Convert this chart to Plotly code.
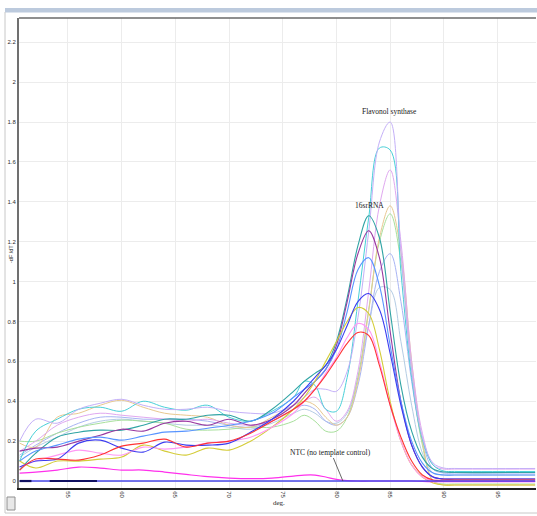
import plotly.graph_objects as go

# ---------------- data ----------------
temps = [50.5, 52, 54, 56, 58, 60, 62, 64, 66, 68, 70, 72, 74, 76, 77, 78, 79, 80,
         81, 82, 83, 84, 85, 86, 87, 88, 89, 90, 91, 98.5]

flavonol_synthase = [0.20, 0.31, 0.29, 0.36, 0.39, 0.41, 0.38, 0.36, 0.36, 0.37, 0.35, 0.34, 0.34, 0.38, 0.42, 0.46, 0.46, 0.45,
                     0.55, 0.82, 1.25, 1.70, 1.80, 1.15, 0.55, 0.22, 0.09, 0.065, 0.063, 0.063]
cyan_sample = [0.10, 0.25, 0.31, 0.36, 0.37, 0.35, 0.40, 0.37, 0.355, 0.38, 0.32, 0.30, 0.35, 0.42, 0.50, 0.48, 0.36, 0.35,
               0.52, 0.90, 1.32, 1.67, 1.66, 1.05, 0.52, 0.21, 0.08, 0.05, 0.048, 0.048]
violet_sample = [0.15, 0.20, 0.28, 0.32, 0.34, 0.33, 0.32, 0.31, 0.30, 0.31, 0.29, 0.28, 0.30, 0.36, 0.40, 0.42, 0.36, 0.30,
                 0.35, 0.55, 0.95, 1.38, 1.56, 1.20, 0.60, 0.24, 0.08, 0.06, 0.06, 0.06]
tan_sample = [0.19, 0.17, 0.32, 0.34, 0.38, 0.405, 0.37, 0.34, 0.33, 0.32, 0.28, 0.27, 0.32, 0.38, 0.40, 0.38, 0.32, 0.28,
              0.32, 0.50, 0.85, 1.22, 1.38, 1.15, 0.60, 0.20, 0.0, -0.02, -0.02, -0.02]
green_sample = [0.20, 0.20, 0.24, 0.27, 0.29, 0.305, 0.30, 0.29, 0.26, 0.255, 0.26, 0.27, 0.27, 0.30, 0.33, 0.30, 0.25, 0.25,
                0.32, 0.52, 0.86, 1.20, 1.34, 1.10, 0.55, 0.18, 0.0, -0.015, -0.015, -0.015]
rrna_16s = [0.055, 0.14, 0.22, 0.245, 0.255, 0.255, 0.28, 0.31, 0.31, 0.33, 0.33, 0.30, 0.36, 0.45, 0.50, 0.54, 0.58, 0.70,
            0.92, 1.18, 1.33, 1.22, 0.85, 0.48, 0.25, 0.12, 0.06, 0.045, 0.043, 0.043]
purple_sample = [0.15, 0.165, 0.17, 0.20, 0.23, 0.26, 0.25, 0.29, 0.30, 0.28, 0.31, 0.28, 0.31, 0.38, 0.44, 0.50, 0.56, 0.68,
                 0.90, 1.14, 1.255, 1.12, 0.75, 0.40, 0.18, 0.07, 0.02, 0.01, 0.01, 0.01]
lightblue_sample = [0.10, 0.15, 0.18, 0.21, 0.22, 0.205, 0.225, 0.245, 0.25, 0.265, 0.28, 0.30, 0.34, 0.42, 0.46, 0.50, 0.56, 0.66,
                    0.85, 1.06, 1.12, 0.98, 0.68, 0.40, 0.20, 0.09, 0.04, 0.03, 0.03, 0.03]
periwinkle_sample = [0.13, 0.18, 0.24, 0.29, 0.32, 0.32, 0.31, 0.31, 0.31, 0.30, 0.28, 0.27, 0.30, 0.36, 0.38, 0.36, 0.30, 0.28,
                     0.32, 0.48, 0.78, 1.05, 1.14, 0.90, 0.50, 0.20, 0.06, 0.04, 0.04, 0.04]
steel_sample = [0.12, 0.17, 0.22, 0.27, 0.30, 0.31, 0.30, 0.29, 0.28, 0.28, 0.27, 0.26, 0.29, 0.34, 0.36, 0.34, 0.30, 0.29,
                0.34, 0.52, 0.78, 0.97, 0.96, 0.70, 0.38, 0.14, 0.04, 0.03, 0.03, 0.03]
blue_sample = [0.07, 0.10, 0.11, 0.19, 0.205, 0.165, 0.145, 0.195, 0.18, 0.18, 0.19, 0.245, 0.31, 0.40, 0.46, 0.52, 0.58, 0.66,
               0.78, 0.90, 0.94, 0.86, 0.64, 0.38, 0.18, 0.07, 0.02, 0.01, 0.01, 0.01]
yellow_sample = [0.10, 0.065, 0.10, 0.10, 0.11, 0.12, 0.18, 0.15, 0.13, 0.165, 0.155, 0.20, 0.27, 0.36, 0.42, 0.50, 0.60, 0.70,
                 0.80, 0.87, 0.84, 0.66, 0.40, 0.20, 0.08, 0.02, -0.01, -0.02, -0.02, -0.02]
pink_sample = [0.07, 0.10, 0.13, 0.155, 0.14, 0.13, 0.17, 0.16, 0.17, 0.19, 0.20, 0.22, 0.27, 0.34, 0.40, 0.46, 0.54, 0.62,
               0.72, 0.79, 0.76, 0.60, 0.38, 0.20, 0.08, 0.02, 0.0, 0.0, 0.0, 0.0]
red_sample = [0.055, 0.11, 0.11, 0.105, 0.13, 0.175, 0.19, 0.21, 0.17, 0.19, 0.20, 0.24, 0.30, 0.36, 0.40, 0.46, 0.53, 0.61,
              0.69, 0.745, 0.73, 0.58, 0.38, 0.22, 0.10, 0.03, 0.005, 0.005, 0.005, 0.005]
magenta_sample = [0.04, 0.045, 0.055, 0.07, 0.065, 0.055, 0.055, 0.045, 0.033, 0.022, 0.015, 0.012, 0.015, 0.025, 0.03, 0.03, 0.02, 0.008,
                  0.002, 0.0, 0.0, 0.0, 0.0, 0.0, 0.0, -0.002, -0.003, -0.003, -0.003, -0.003]
ntc_sample = [0.0] * len(temps)

navy_temps = [50.5, 51.6, None, 53.3, 57.7]
navy_values = [0.0, 0.0, None, 0.0, 0.0]

series = [
    ("steel", steel_sample, "#b4cce4", 1.0),
    ("periwinkle", periwinkle_sample, "#a8b4f4", 1.0),
    ("green", green_sample, "#a8e09c", 1.0),
    ("tan", tan_sample, "#e8c890", 1.0),
    ("violet", violet_sample, "#e0a8f0", 1.0),
    ("cyan", cyan_sample, "#48d0d8", 1.0),
    ("flavonol", flavonol_synthase, "#c4b0f8", 1.0),
    ("16srRNA", rrna_16s, "#30a4a4", 1.1),
    ("purple", purple_sample, "#9838a0", 1.1),
    ("lightblue", lightblue_sample, "#5894ff", 1.1),
    ("yellow", yellow_sample, "#d4cc38", 1.1),
    ("pink", pink_sample, "#ff98f4", 1.1),
    ("blue", blue_sample, "#3c3cf0", 1.1),
    ("red", red_sample, "#ff3434", 1.1),
    ("magenta", magenta_sample, "#ff30ec", 1.2),
    ("ntc", ntc_sample, "#4848e8", 1.6),
]

x_ticks = [55, 60, 65, 70, 75, 80, 85, 90, 95]
y_ticks = [0, 0.2, 0.4, 0.6, 0.8, 1, 1.2, 1.4, 1.6, 1.8, 2, 2.2]

# ---------------- figure ----------------
W, H = 537, 516
ML, MR, MT, MB = 19, 1, 18, 28

fig = go.Figure()
for name, vals, color, w in series:
    fig.add_trace(go.Scatter(x=temps, y=vals, mode="lines", name=name,
                             line=dict(color=color, width=w, shape="spline", smoothing=1.0),
                             hoverinfo="skip"))
fig.add_trace(go.Scatter(x=navy_temps, y=navy_values, mode="lines", name="navy",
                         line=dict(color="#101060", width=2.2), hoverinfo="skip"))

def px_x(p):
    return (p - ML) / (W - ML - MR)

def px_y(p):
    return 1 - (p - MT) / (H - MT - MB)

shapes = [
    dict(type="rect", xref="paper", yref="paper", x0=px_x(5), x1=px_x(537), y0=px_y(12.5), y1=px_y(8),
         fillcolor="#bccadd", line=dict(width=0), layer="below"),
    dict(type="line", xref="paper", yref="paper", x0=px_x(5), x1=px_x(5), y0=px_y(12), y1=px_y(513),
         line=dict(color="#c8c8c8", width=1)),
    dict(type="line", xref="paper", yref="paper", x0=px_x(5), x1=px_x(537), y0=px_y(513), y1=px_y(513),
         line=dict(color="#c8c8c8", width=1)),
    dict(type="line", xref="paper", yref="paper", x0=0, x1=1, y0=1, y1=1,
         line=dict(color="#6a6a6a", width=1.5)),
    dict(type="rect", xref="paper", yref="paper", x0=px_x(7), x1=px_x(15), y0=px_y(510), y1=px_y(497),
         fillcolor="#e8e8e8", line=dict(color="#909090", width=1)),
]

annotations = [
    dict(x=84.9, y=1.82, text="Flavonol synthase", showarrow=False, yanchor="bottom",
         font=dict(family="Liberation Serif", size=7.5, color="#202020")),
    dict(x=83.1, y=1.35, text="16srRNA", showarrow=False, yanchor="bottom",
         font=dict(family="Liberation Serif", size=7.5, color="#202020")),
    dict(x=80.6, y=0.0, text="NTC (no template control)", showarrow=True, arrowhead=0,
         arrowwidth=0.8, arrowcolor="#404040", ax=-12, ay=-29,
         font=dict(family="Liberation Serif", size=7.5, color="#202020")),
    dict(x=px_x(279), y=px_y(509), xref="paper", yref="paper", text="deg.", showarrow=False,
         font=dict(family="Liberation Serif", size=7, color="#202020")),
    dict(x=px_x(6), y=px_y(254), xref="paper", yref="paper", text="-dF /dT", showarrow=False,
         textangle=-90, font=dict(family="Liberation Sans", size=5.5, color="#303030")),
]

fig.update_layout(
    width=W, height=H,
    margin=dict(l=ML, r=MR, t=MT, b=MB, pad=0),
    paper_bgcolor="white", plot_bgcolor="white",
    showlegend=False,
    shapes=shapes, annotations=annotations,
    xaxis=dict(range=[50.44, 98.58], tickvals=x_ticks, ticktext=[str(v) for v in x_ticks],
               tickangle=90, tickfont=dict(family="Liberation Sans", size=6, color="#303030"),
               showgrid=True, gridcolor="#ececec", gridwidth=1, zeroline=False,
               showline=True, linecolor="#202020", linewidth=2, ticks="", ticklen=0),
    yaxis=dict(range=[-0.035, 2.322], tickvals=y_ticks,
               tickfont=dict(family="Liberation Sans", size=6, color="#303030"),
               showgrid=True, gridcolor="#ececec", gridwidth=1, zeroline=False,
               showline=True, linecolor="#707070", linewidth=2, ticks="", ticklen=0),
)

fig.write_html("out.html", config={"displayModeBar": False},
               post_script="document.body.style.margin='0';document.body.style.overflow='hidden';")
